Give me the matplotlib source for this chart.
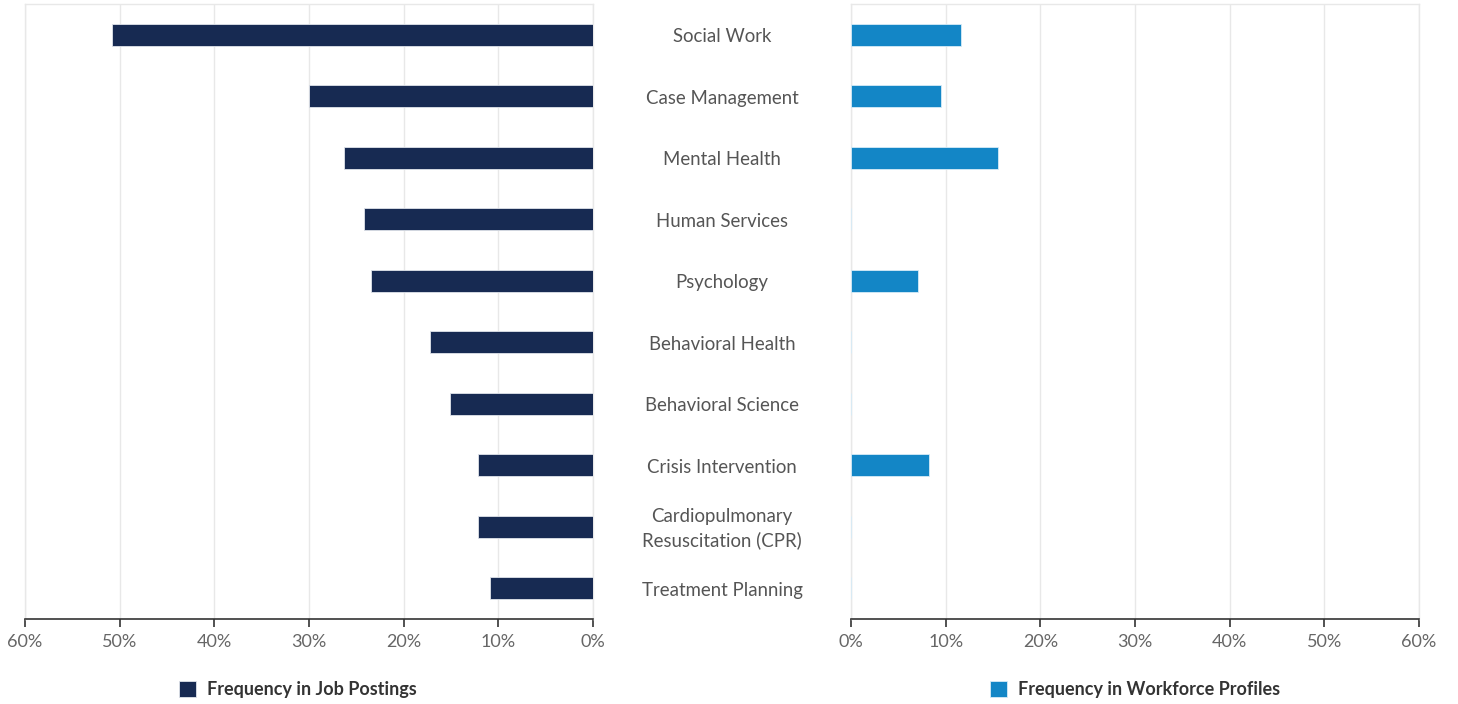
import matplotlib.pyplot as plt
import numpy as np
from matplotlib.transforms import blended_transform_factory, offset_copy
from matplotlib.ticker import FuncFormatter

plt.rcParams['font.family'] = ['Lato', 'DejaVu Sans']

skills = ["Social Work", "Case Management", "Mental Health", "Human Services",
          "Psychology", "Behavioral Health", "Behavioral Science",
          "Crisis Intervention", "Cardiopulmonary\nResuscitation (CPR)",
          "Treatment Planning"]
job_postings = [50.8, 30.0, 26.3, 24.2, 23.5, 17.2, 15.1, 12.2, 12.2, 10.9]
workforce = [11.6, 9.5, 15.5, 0, 7.1, 0, 0, 8.2, 0, 0]

navy = "#172a52"
blue = "#1386c6"
grid_c = "#e8e8e8"

fig = plt.figure(figsize=(14.58, 7.04), dpi=100)
ax1 = fig.add_axes([25 / 1458, 1 - 619 / 704, 568 / 1458, 615 / 704])
ax2 = fig.add_axes([851 / 1458, 1 - 619 / 704, 568 / 1458, 615 / 704])

y = np.arange(len(skills))
ax1.barh(y, job_postings, height=0.36, color=navy, edgecolor="#dfe3ea", linewidth=0.6,
         label="Frequency in Job Postings", zorder=3)
ax2.barh(y, workforce, height=0.36, color=blue, edgecolor="#d6ebf7", linewidth=0.6,
         label="Frequency in Workforce Profiles", zorder=3)

pct = FuncFormatter(lambda v, p: f"{v:.0f}%")
for ax, lx in ((ax1, 0.48), (ax2, 0.5)):
    ax.set_xlim(0, 60)
    ax.set_ylim(len(skills) - 0.5, -0.5)
    ax.set_xticks(np.arange(0, 61, 10))
    ax.xaxis.set_major_formatter(pct)
    ax.set_yticks([])
    ax.grid(axis="x", color=grid_c, linewidth=1, zorder=0)
    for s in ("top", "left", "right"):
        ax.spines[s].set_color(grid_c)
        ax.spines[s].set_linewidth(1)
    ax.spines["bottom"].set_color("#333333")
    ax.spines["bottom"].set_linewidth(1.2)
    ax.tick_params(axis="x", colors="#333333", length=6, width=1.2,
                   labelsize=13, labelcolor="#666666", pad=5)
    ax.legend(loc="upper center", bbox_to_anchor=(lx, -0.075), frameon=False,
              handlelength=0.95, handleheight=0.95, handletextpad=0.6,
              prop={"weight": "bold", "size": 13}, labelcolor="#333333")
ax1.invert_xaxis()

tr = blended_transform_factory(fig.transFigure, ax2.transData)
tr = offset_copy(tr, fig=fig, y=-2, units="dots")
for i, s in enumerate(skills):
    ax2.text(722 / 1458, i, s, transform=tr, ha="center", va="center",
             fontsize=13.4, color="#555555", linespacing=1.45)

fig.savefig("out.png", dpi=100)
